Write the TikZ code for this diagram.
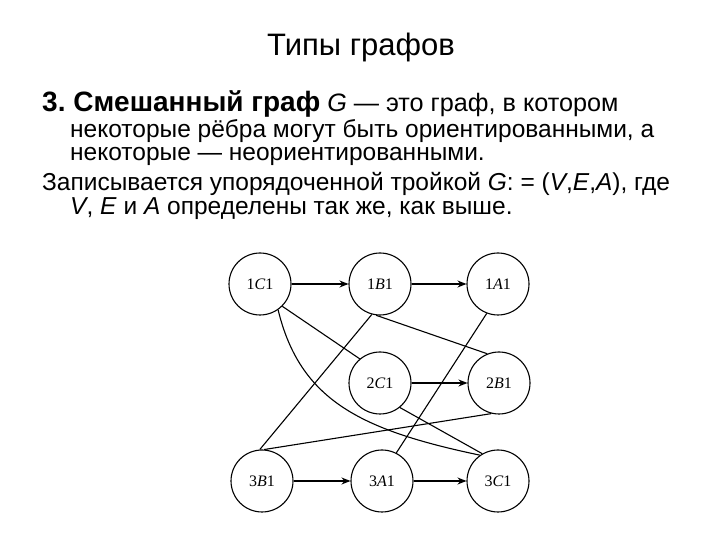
\documentclass[tikz,border=0pt]{standalone}
\usepackage{fontspec}
\setmainfont{Liberation Sans}
\newfontfamily\serifnode{Liberation Serif}
\usetikzlibrary{arrows.meta}
\frenchspacing
\begin{document}
\begin{tikzpicture}[x=1pt,y=1pt,
  vtx/.style={circle,draw,line width=1.1pt,minimum size=62pt,inner sep=0pt,
    font=\serifnode\fontsize{16}{16}\selectfont},
  edge/.style={line width=1.1pt},
  arc/.style={line width=1.1pt,-{Stealth[length=9pt,width=7pt]}},
  txt/.style={anchor=base west,inner sep=0pt,font=\fontsize{24.5}{24.5}\selectfont},
  ttl/.style={anchor=base,inner sep=0pt,font=\fontsize{31}{31}\selectfont}]
\useasboundingbox (0,0) rectangle (720,540);
\fill[white] (0,0) rectangle (720,540);
% texts
\node[ttl] (title) at (361,484) {Типы графов};
\node[txt,font=\fontsize{25.2}{25.2}\selectfont] (l1) at (42,428) {{\fontsize{28}{28}\selectfont\bfseries 3. Смешанный граф} \textit{G} — это граф, в котором};
\node[txt] (l2) at (70,402) {некоторые рёбра могут быть ориентированными, а};
\node[txt] (l3) at (70,379) {некоторые — неориентированными.};
\node[txt] (l4) at (42,349) {Записывается упорядоченной тройкой \textit{G}: = (\textit{V},\textit{E},\textit{A}), где};
\node[txt] (l5) at (70,325) {\textit{V}, \textit{E} и \textit{A} определены так же, как выше.};
% vertices
\node[vtx] (c11) at (260,256) {1\textit{C}1};
\node[vtx] (b11) at (380,256) {1\textit{B}1};
\node[vtx] (a11) at (498,256) {1\textit{A}1};
\node[vtx] (c21) at (380,157) {2\textit{C}1};
\node[vtx] (b21) at (499,157) {2\textit{B}1};
\node[vtx] (b31) at (262,59) {3\textit{B}1};
\node[vtx] (a31) at (382,59) {3\textit{A}1};
\node[vtx] (c31) at (498,59) {3\textit{C}1};
% directed edges
\draw[arc] (c11) -- (b11);
\draw[arc] (b11) -- (a11);
\draw[arc,line width=1.8pt] (c21) -- (b21);
\draw[arc] (b31) -- (a31);
\draw[arc] (a31) -- (c31);
% undirected edges
\draw[edge] (c11.-45) -- (c21.130);
\draw[edge] (c11.-55) .. controls (300,140) and (360,110) .. (c31.125);
\draw[edge] (b11.-105) -- (b31.94);
\draw[edge] (b11.-97) -- (b21.112);
\draw[edge] (a11.-111) -- (a31.63);
\draw[edge] (b31.86) -- (b21.-104);
\draw[edge] (c21.-51) -- (c31.120);
\end{tikzpicture}
\end{document}
